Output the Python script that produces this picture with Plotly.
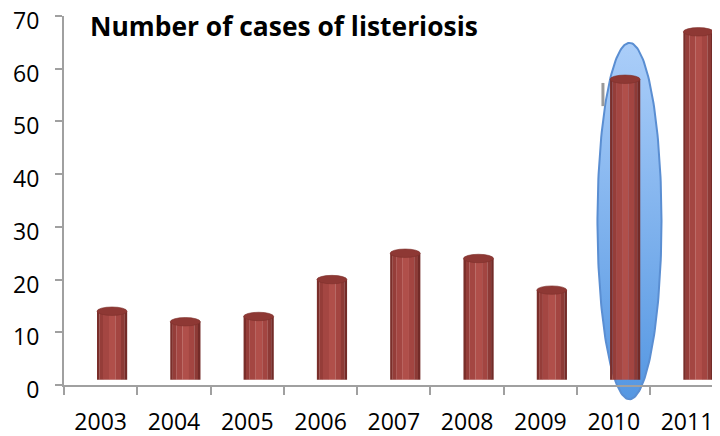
import numpy as np
import plotly.graph_objects as go

# ---- data ----
years = ["2003", "2004", "2005", "2006", "2007", "2008", "2009", "2010", "2011"]
cases = [14, 12, 13, 20, 25, 24, 18, 58, 67]
y_ticks = [0, 10, 20, 30, 40, 50, 60, 70]
title_text = "Number of cases of listeriosis"
highlight_year = "2010"

# ---- style / geometry ----
FONT = "Open Sans"
PAGE_PAD = 8           # browser default body margin
FLOOR = 1.0            # 3-D floor offset of the cylinders
BAR_OFF = -0.05        # bar left edge relative to category centre (category units)
BAR_W = 0.41           # bar width (category units)
TOP_RY = 0.8           # half height of top ellipse (value units)
XR = [-0.5, 8.45]
YR = [0, 70]
W, H = 720 - PAGE_PAD, 436 - PAGE_PAD
M_L, M_R, M_T, M_B = 64 - PAGE_PAD, 0, 16 - PAGE_PAD, 30
plot_bottom_px = 385 - PAGE_PAD
paper_h = H - M_T - M_B
d_bar = (H - M_B - plot_bottom_px) / paper_h
px_per_unit = (plot_bottom_px - M_T) / (YR[1] - YR[0])
y_ell_low = YR[1] - paper_h / px_per_unit

strips = [
    (0.00, 0.08, "#7A2E2A"),
    (0.08, 0.20, "#953D39"),
    (0.20, 0.40, "#A44642"),
    (0.40, 0.62, "#B04F4A"),
    (0.62, 0.80, "#A34541"),
    (0.80, 0.92, "#8D3A36"),
    (0.92, 1.00, "#732B28"),
]

fig = go.Figure()

# ---- highlight ellipse (behind bars, on its own subplot so it can extend below the axis) ----
hi = years.index(highlight_year)
ecx = hi + 0.215
erx = 0.437
ecy = 31.1
ery = 33.8
th = np.linspace(0, 2 * np.pi, 200)
fig.add_trace(go.Scatter(
    x=ecx + erx * np.cos(th), y=ecy + ery * np.sin(th),
    mode="lines", fill="toself",
    line=dict(color="#5A8ED2", width=2),
    fillgradient=dict(type="vertical", colorscale=[[0, "#5597E2"], [1, "#ABCEF9"]]),
    xaxis="x", yaxis="y", hoverinfo="skip", showlegend=False,
))

# ---- cylinders ----
for s0, s1, col in strips:
    fig.add_trace(go.Bar(
        x=years, y=[v - FLOOR for v in cases], base=FLOOR,
        width=BAR_W * (s1 - s0) + 0.002, offset=BAR_OFF + BAR_W * s0,
        marker=dict(color=col, line=dict(width=0)),
        xaxis="x2", yaxis="y2", showlegend=False, hoverinfo="skip",
    ))

shapes = []
for i, v in enumerate(cases):
    shapes.append(dict(
        type="circle", xref="x2", yref="y2",
        x0=i + BAR_OFF, x1=i + BAR_OFF + BAR_W,
        y0=v - TOP_RY, y1=v + TOP_RY,
        fillcolor="#8E3834", line=dict(color="#7E302C", width=0.6), layer="above",
    ))
# small grey text-cursor mark near the highlighted bar
shapes.append(dict(type="line", xref="x2", yref="y2",
                   x0=hi - 0.147, x1=hi - 0.147, y0=52.9, y1=57.3,
                   line=dict(color="#9A9A9A", width=3)))

fig.update_layout(
    width=W, height=H,
    margin=dict(l=M_L, r=M_R, t=M_T, b=M_B, autoexpand=False),
    paper_bgcolor="white", plot_bgcolor="rgba(0,0,0,0)",
    barmode="overlay",
    font=dict(family=FONT, size=23, color="black"),
    title=dict(text="<b>" + title_text + "</b>", x=(90 - PAGE_PAD) / W, xanchor="left",
               xref="container", y=1 - (27 - PAGE_PAD) / H, yanchor="middle", yref="container",
               font=dict(family=FONT, size=26.4, color="black")),
    shapes=shapes,
    xaxis=dict(domain=[0, 1], range=XR, visible=False, fixedrange=True, automargin=False),
    yaxis=dict(domain=[0, 1], range=[y_ell_low, YR[1]], visible=False, fixedrange=True, automargin=False),
    xaxis2=dict(domain=[0, 1], anchor="y2", type="category", range=XR, automargin=False,
                showline=True, linecolor="#A0A0A0", linewidth=2,
                ticks="outside", tickson="boundaries", ticklen=8, tickcolor="#A0A0A0", tickwidth=1.5,
                showgrid=False, zeroline=False, ticklabelstandoff=15, ticklabeloverflow="allow",
                tickfont=dict(family=FONT, size=23, color="black")),
    yaxis2=dict(domain=[d_bar, 1], anchor="x2", range=YR, tickvals=y_ticks, automargin=False,
                showline=True, linecolor="#A0A0A0", linewidth=2,
                ticks="outside", ticklen=7, tickcolor="#A0A0A0", tickwidth=1.5,
                showgrid=False, zeroline=False, ticklabelstandoff=11, ticklabelshift=5,
                ticklabeloverflow="allow",
                tickfont=dict(family=FONT, size=23, color="black")),
)

fig.write_html("out.html")
